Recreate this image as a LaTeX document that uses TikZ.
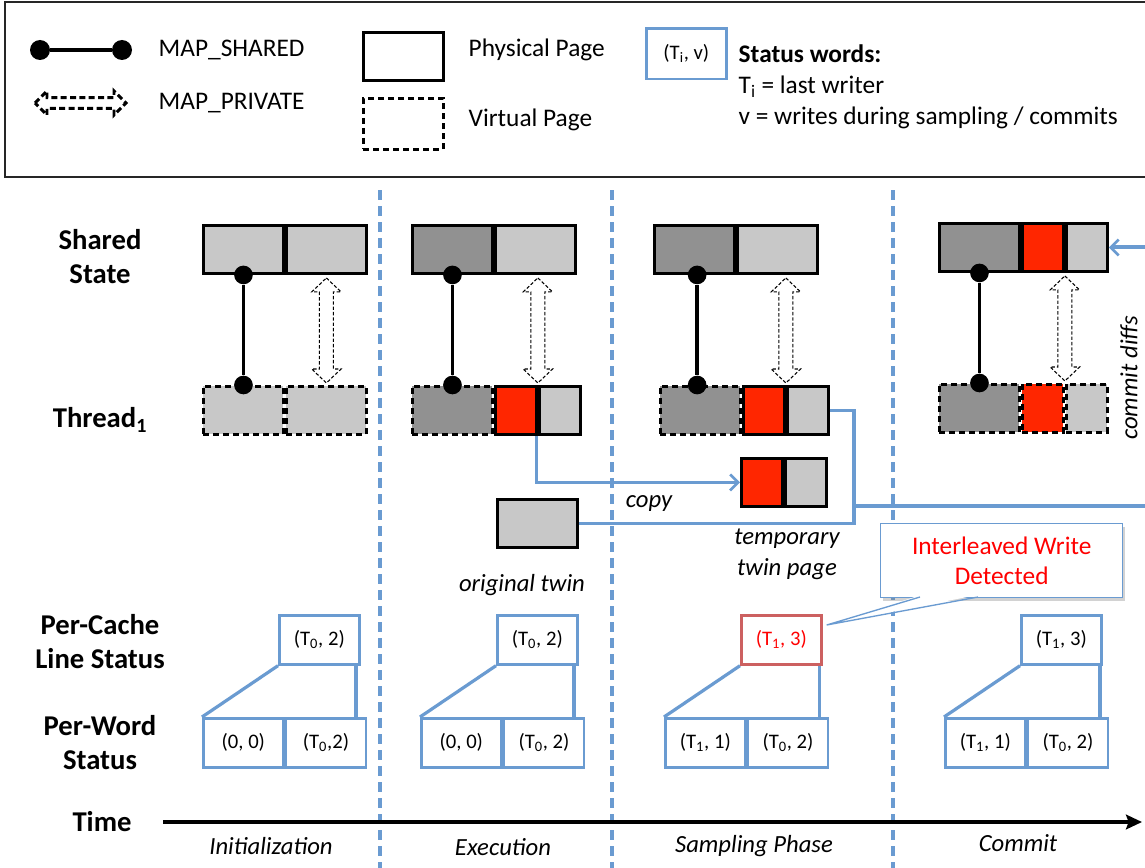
\documentclass[tikz,border=0pt]{standalone}
\usepackage{fontspec}
\setmainfont{Carlito}
\usetikzlibrary{arrows.meta,calc,shadows}
\definecolor{lgray}{RGB}{200,200,200}
\definecolor{dgray}{RGB}{145,145,145}
\definecolor{pred}{RGB}{255,38,0}
\definecolor{pblue}{RGB}{106,155,209}
\definecolor{bred}{RGB}{204,96,96}
\tikzset{
 page/.style={draw=black, line width=2.2pt, rectangle, inner sep=0pt, minimum height=36pt, anchor=north west},
 vpage/.style={page, dash pattern=on 4.5pt off 3pt},
 wbig/.style={minimum width=60pt}, wsmall/.style={minimum width=30.75pt},
 lg/.style={fill=lgray}, dg/.style={fill=dgray}, rd/.style={fill=pred},
 dot/.style={circle, fill=black, inner sep=0pt, minimum size=14pt},
 shline/.style={line width=2.8pt},
 priv/.style={draw=black, line width=0.8pt, dash pattern=on 2.5pt off 1.5pt, fill=white},
 stat/.style={draw=pblue, line width=2pt, rectangle, inner sep=0pt, minimum width=60pt, minimum height=36.75pt, anchor=north west, font=\fontsize{15.5}{18}\selectfont},
 bline/.style={draw=pblue, line width=2.4pt},
 phase/.style={font=\fontsize{18.5}{23}\selectfont\itshape, align=center},
 lbl/.style={font=\fontsize{21.5}{25.5}\selectfont\bfseries, align=center},
 txt/.style={font=\fontsize{19}{23}\selectfont},
 txtb/.style={font=\fontsize{19}{23}\selectfont\bfseries},
 sep/.style={draw=pblue, line width=2.6pt, dash pattern=on 7.5pt off 4.5pt},
 barb/.style={-{Straight Barb[length=6pt,width=12pt,line width=2pt]}}
}
\newcommand\privarrow[2]{%
 \path[priv] let \p1=(#1), \p2=(#2) in (\x1,\y1) -- (\x1+11pt,\y1-10.5pt) -- (\x1+5.25pt,\y1-10.5pt) -- (\x1+5.25pt,\y2+10.5pt) -- (\x1+11pt,\y2+10.5pt) -- (\x1,\y2) -- (\x1-11pt,\y2+10.5pt) -- (\x1-5.25pt,\y2+10.5pt) -- (\x1-5.25pt,\y1-10.5pt) -- (\x1-11pt,\y1-10.5pt) -- cycle;}
\begin{document}
\begin{tikzpicture}[x=0.75pt,y=-0.75pt]
\useasboundingbox (0,0) rectangle (1145,867);
\clip (0,0) rectangle (1145,867);
\fill[white] (0,0) rectangle (1145,867);

% ---------- legend ----------
\draw[line width=1.2pt, black!85] (1170,2) -- (5,2) -- (5,177) -- (1170,177);
\node[dot, minimum size=15pt] (ls1) at (40,50) {};
\node[dot, minimum size=15pt] (ls2) at (122,50) {};
\draw[shline] (ls1) -- (ls2);
\node[txt, anchor=west] (lsT) at (154,50) {MAP\_SHARED};
\coordinate (lp1) at (35,103);
\coordinate (lp2) at (126,103);
\path[draw=black, line width=2.2pt, dash pattern=on 4.5pt off 2.5pt, fill=white] let \p1=(lp1), \p2=(lp2) in
 (\x1,\y1) -- (\x1+9pt,\y1+9pt) -- (\x1+9pt,\y1+4pt) -- (\x2-9pt,\y1+4pt) -- (\x2-9pt,\y1+9pt) -- (\x2,\y1)
 -- (\x2-9pt,\y1-9pt) -- (\x2-9pt,\y1-4pt) -- (\x1+9pt,\y1-4pt) -- (\x1+9pt,\y1-9pt) -- cycle;
\node[txt, anchor=west] (lpT) at (154,103) {MAP\_PRIVATE};
\node[page, wbig, minimum height=36pt] (lpp) at (362,31) {};
\node[txt, anchor=west] (lppT) at (464,50) {Physical Page};
\node[vpage, wbig, minimum height=38pt] (lvp) at (362,97) {};
\node[txt, anchor=west] (lvpT) at (464,120) {Virtual Page};
\node[stat, minimum height=38pt] (lst) at (645,27) {(T\textsubscript{i}, v)};
\node[txtb, anchor=west] (sw1) at (734,54) {Status words:};
\node[txt, anchor=west] (sw2) at (734,87) {T\textsubscript{i} = last writer};
\node[txt, anchor=west] (sw3) at (734,118) {v = writes during sampling / commits};

% ---------- separators & axis ----------
\foreach \x in {380,612,893} \draw[sep] (\x,190) -- (\x,870);
\coordinate (ax0) at (163,822);
\coordinate (ax1) at (1142,822);
\draw[line width=2.4pt, -{Stealth[length=12pt,width=11pt,inset=2pt]}] (ax0) -- (ax1);

% ---------- row labels ----------
\node[lbl] (lShared) at (100,257) {Shared\\State};
\node[lbl] (lThread) at (100,420) {Thread\textsubscript{1}};
\node[lbl] (lCache) at (100,642) {Per-Cache\\Line Status};
\node[lbl] (lWord) at (100,743) {Per-Word\\Status};
\node[lbl] (lTime) at (102,822) {Time};

% ---------- phase labels ----------
\node[phase] (ph1) at (271,846) {Initialization};
\node[phase] (ph2) at (503,847) {Execution};
\node[phase] (ph3) at (754,846) {Sampling Phase};
\node[phase] (ph4) at (1018,843) {Commit};

% ---------- column 1 ----------
\node[page, wbig, lg] (s1a) at (202,224) {};
\node[page, wbig, lg] (s1b) at (s1a.north east) {};
\node[vpage, wbig, lg] (t1a) at (202,385) {};
\node[vpage, wbig, lg] (t1b) at (t1a.north east) {};
\node[dot] (d1a) at (s1a.south) {};
\node[dot] (d1b) at (t1a.north) {};
\draw[shline] (d1a) -- (d1b);
\privarrow{$(s1b.south)+(0,3)$}{$(t1b.north)+(0,-2)$}

% ---------- column 2 ----------
\node[page, wbig, dg] (s2a) at (411,224) {};
\node[page, wbig, lg] (s2b) at (s2a.north east) {};
\node[vpage, wbig, dg] (t2a) at (411,385) {};
\node[page, wsmall, rd] (t2r) at (t2a.north east) {};
\node[page, wsmall, lg] (t2g) at (t2r.north east) {};
\node[dot] (d2a) at (s2a.south) {};
\node[dot] (d2b) at (t2a.north) {};
\draw[shline] (d2a) -- (d2b);
\privarrow{$(t2r.north east |- s2b.south)+(0,3)$}{$(t2r.north east)+(0,-2)$}

% ---------- column 3 ----------
\node[page, wbig, dg] (s3a) at (653,224) {};
\node[page, wbig, lg] (s3b) at (s3a.north east) {};
\node[vpage, wbig, dg] (t3a) at (659,385) {};
\node[page, wsmall, rd] (t3r) at (t3a.north east) {};
\node[page, wsmall, lg] (t3g) at (t3r.north east) {};
\node[dot] (d3a) at ([xshift=2pt]s3a.south) {};
\node[dot] (d3b) at (d3a |- t3a.north) {};
\draw[shline] (d3a) -- (d3b);
\privarrow{$(t3r.north east |- s3b.south)+(0,3)$}{$(t3r.north east)+(0,-2)$}

% twins
\node[page, wsmall, rd] (twr) at (740,457) {};
\node[page, wsmall, lg] (twg) at (twr.north east) {};
\node[page, wbig, lg] (ot) at (496,498) {};

% ---------- column 4 ----------
\node[page, wbig, dg] (s4a) at (938,222) {};
\node[page, wsmall, rd] (s4r) at (s4a.north east) {};
\node[page, wsmall, lg] (s4g) at (s4r.north east) {};
\node[vpage, wbig, dg] (t4a) at (938,383) {};
\node[vpage, wsmall, rd] (t4r) at (t4a.north east) {};
\node[vpage, wsmall, lg] (t4g) at (t4r.north east) {};
\node[dot] (d4a) at (s4a.south) {};
\node[dot] (d4b) at (t4a.north) {};
\draw[shline] (d4a) -- (d4b);
\privarrow{$(s4r.south east)+(0,3)$}{$(t4r.north east)+(0,-2)$}

% ---------- blue connectors ----------
\draw[bline, barb] ([xshift=-0.75pt]t2r.south east) -- ([xshift=-0.75pt]t2r.south east |- twr.west) -- (twr.west);
\coordinate (bend) at (854,457);
\draw[bline] (t3g.east) -- (t3g.east -| bend) -- (bend |- ot.east) -- (ot.east);
\coordinate (cd0) at (854,506);
\coordinate (cd1) at (1175,506);
\draw[bline, line width=3pt, barb] (cd0) -- (cd1) |- (s4g.east);

\node[phase] (lcopy) at (649,504) {copy};
\node[phase] (lorig) at (522,585) {original twin};
\node[phase] (ltemp) at (787,554) {temporary\\twin page};
\node[phase, rotate=90, inner sep=1pt] (lcommit) at (1129,378) {commit diffs};

% ---------- status boxes ----------
\node[stat] (c1) at (278,614) {(T\textsubscript{0}, 2)};
\node[stat] (w1a) at (202,717) {(0, 0)};
\node[stat] (w1b) at (w1a.north east) {(T\textsubscript{0},2)};
\draw[bline] (c1.south west) -- (w1a.north west);
\coordinate (v1) at ([xshift=-3.5pt]c1.south east);
\draw[bline] (v1) -- (v1 |- w1b.north);

\node[stat] (c2) at (496,614) {(T\textsubscript{0}, 2)};
\node[stat] (w2a) at (420,717) {(0, 0)};
\node[stat] (w2b) at (w2a.north east) {(T\textsubscript{0}, 2)};
\draw[bline] (c2.south west) -- (w2a.north west);
\coordinate (v2) at ([xshift=-3.5pt]c2.south east);
\draw[bline] (v2) -- (v2 |- w2b.north);

\node[stat, draw=bred, text=red] (c3) at (740,614) {(T\textsubscript{1}, 3)};
\node[stat] (w3a) at (664,717) {(T\textsubscript{1}, 1)};
\node[stat] (w3b) at (w3a.north east) {(T\textsubscript{0}, 2)};
\draw[bline] (c3.south west) -- (w3a.north west);
\coordinate (v3) at ([xshift=-2.5pt]c3.south east);
\draw[bline] (v3) -- (v3 |- w3b.north);

\node[stat] (c4) at (1020,614) {(T\textsubscript{1}, 3)};
\node[stat] (w4a) at (944,717) {(T\textsubscript{1}, 1)};
\node[stat] (w4b) at (w4a.north east) {(T\textsubscript{0}, 2)};
\draw[bline] (c4.south west) -- (w4a.north west);
\coordinate (v4) at ([xshift=-2pt]c4.south east);
\draw[bline] (v4) -- (v4 |- w4b.north);

% ---------- callout ----------
\node[draw=pblue, line width=1pt, fill=white, rectangle, inner sep=0pt, minimum width=181.5pt, minimum height=55.5pt, anchor=north west,
  drop shadow={shadow xshift=2pt, shadow yshift=-2.5pt, opacity=0.35}, align=center, text=red,
  font=\fontsize{19}{22.5}\selectfont] (co) at (880,523) {Interleaved Write\\Detected};
\coordinate (tip) at ($(c3.north east)+(4,11)$);
\coordinate (pb1) at (920,597);
\coordinate (pb2) at (978,597);
\fill[white] ($(pb1)+(1,-2)$) -- (tip) -- ($(pb2)+(-1,-2)$) -- cycle;
\draw[draw=pblue, line width=1pt] (pb1) -- (tip) -- (pb2);
\end{tikzpicture}
\end{document}
